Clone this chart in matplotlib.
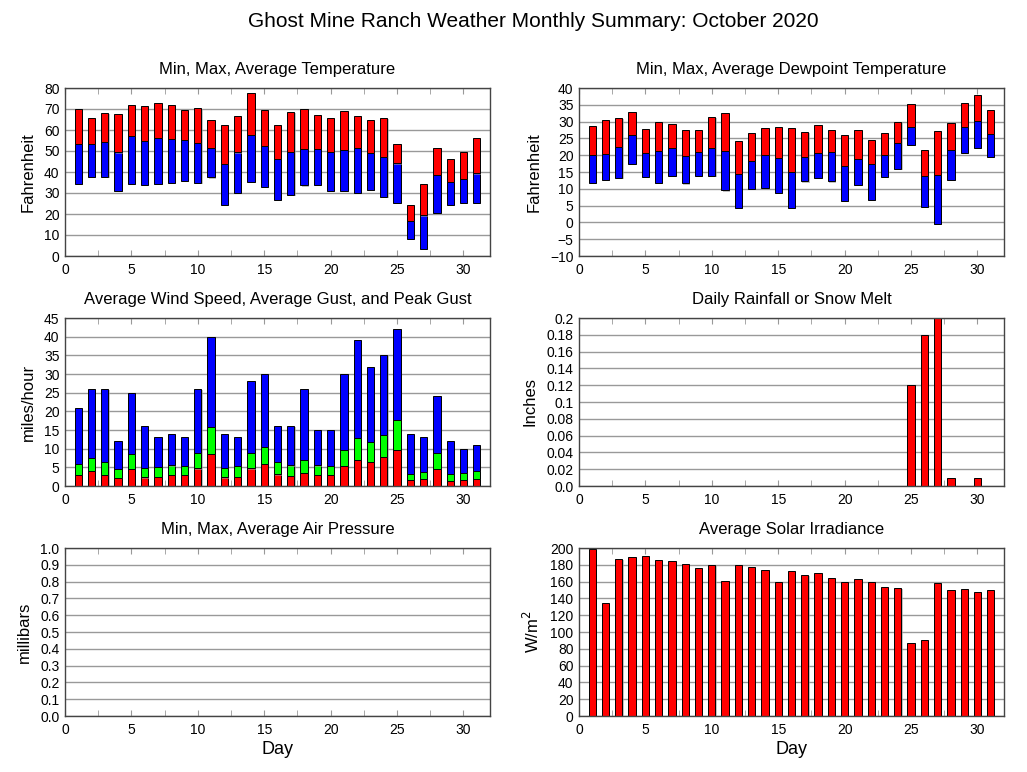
import numpy as np
import matplotlib
matplotlib.use('Agg')
import matplotlib.pyplot as plt
import matplotlib.patheffects as pe
from matplotlib.ticker import MultipleLocator

plt.rcParams['font.family'] = ['Liberation Sans', 'DejaVu Sans']

# data
days = np.arange(1, 32)

temp_max = [70.0, 65.5, 68.0, 67.4, 71.9, 71.4, 72.8, 72.0, 69.5, 70.5, 64.8, 62.4, 66.7, 77.7, 69.5, 62.4,
            68.6, 70.0, 67.1, 65.9, 69.0, 66.5, 64.9, 65.7, 53.4, 24.2, 34.3, 51.3, 46.4, 49.6, 56.2]
temp_avg = [53.4, 53.4, 54.3, 49.3, 57.2, 54.8, 56.2, 55.6, 55.3, 54.0, 51.5, 43.9, 49.3, 57.8, 52.4, 46.3,
            49.6, 51.0, 51.0, 49.6, 50.6, 51.5, 49.1, 47.2, 44.1, 16.9, 19.3, 38.7, 35.4, 36.8, 39.3]
temp_min = [34.3, 37.6, 37.8, 31.1, 34.3, 34.0, 34.4, 34.9, 35.9, 34.6, 37.4, 24.5, 29.9, 35.4, 33.0, 26.9,
            29.2, 33.6, 33.8, 31.0, 31.0, 29.9, 31.6, 28.3, 25.4, 8.1, 3.2, 20.4, 24.3, 25.1, 25.4]

dew_max = [28.7, 30.5, 31.1, 32.8, 27.8, 29.9, 29.3, 27.6, 27.5, 31.4, 32.7, 24.2, 26.6, 28.1, 28.4, 28.1,
           26.9, 29.0, 27.5, 26.1, 27.5, 24.6, 26.5, 29.9, 35.2, 21.6, 27.2, 29.6, 35.5, 37.9, 33.4]
dew_avg = [20.1, 20.5, 22.5, 25.9, 20.7, 21.3, 22.2, 19.8, 20.9, 22.2, 21.3, 14.5, 18.2, 20.1, 19.2, 15.1,
           19.5, 20.7, 21.0, 16.9, 19.0, 17.5, 20.1, 23.7, 28.4, 13.9, 14.2, 21.6, 28.5, 30.2, 26.4]
dew_min = [11.8, 12.7, 13.3, 17.5, 13.6, 11.8, 13.8, 11.6, 13.9, 13.7, 9.5, 4.4, 10.0, 10.1, 8.8, 4.2,
           12.2, 13.3, 12.2, 6.5, 11.2, 6.7, 13.6, 15.9, 23.0, 4.6, -0.4, 12.7, 20.7, 22.1, 19.5]

wind_avg = [2.9, 4.0, 3.0, 2.1, 4.5, 2.3, 2.4, 2.9, 2.9, 4.7, 8.7, 2.3, 2.5, 4.7, 5.8, 3.1,
            2.6, 3.4, 2.9, 2.9, 5.3, 7.0, 6.4, 7.9, 9.7, 1.7, 2.0, 4.5, 1.4, 1.7, 1.8]
gust_avg = [6.0, 7.6, 6.5, 4.6, 8.6, 4.9, 5.2, 5.5, 5.4, 8.9, 15.8, 4.9, 5.3, 8.9, 10.5, 6.4,
            5.5, 7.0, 5.5, 5.4, 9.6, 12.9, 11.7, 13.7, 17.6, 3.3, 3.7, 8.9, 3.3, 3.6, 4.1]
gust_peak = [21, 26, 26, 12, 25, 16, 13, 14, 13, 26, 40, 14, 13, 28, 30, 16,
             16, 26, 15, 15, 30, 39, 32, 35, 42, 14, 13, 24, 12, 10, 11]

rain = [0, 0, 0, 0, 0, 0, 0, 0, 0, 0, 0, 0, 0, 0, 0, 0,
        0, 0, 0, 0, 0, 0, 0, 0, 0.12, 0.18, 0.2, 0.01, 0, 0.01, 0]

solar = [199, 134, 187, 189, 191, 186, 185, 181, 176, 180, 161, 180, 177, 174, 160, 173,
         168, 170, 164, 160, 163, 159, 154, 152, 87, 90, 158, 150, 151, 148, 150]

rain_ticks = [0.0, 0.02, 0.04, 0.06, 0.08, 0.1, 0.12, 0.14, 0.16, 0.18, 0.2]
rain_labels = ['0.0', '0.02', '0.04', '0.06', '0.08', '0.1', '0.12', '0.14', '0.16', '0.18', '0.2']
press_ticks = np.round(np.arange(0, 1.01, 0.1), 1)

W, H = 1027, 772
fig = plt.figure(figsize=(W / 100, H / 100), dpi=100)


def make_ax(left, top, right, bottom):
    ax = fig.add_axes([left / W, 1 - bottom / H, (right - left) / W, (bottom - top) / H])
    ax.set_xlim(0, 32)
    ax.xaxis.set_major_locator(MultipleLocator(5))
    ax.xaxis.set_minor_locator(MultipleLocator(2.5))
    ax.tick_params(axis='x', which='both', direction='in', top=True, length=4,
                   color='#999999', labelsize=10, pad=5)
    ax.tick_params(axis='y', length=0, labelsize=10, pad=4)
    ax.grid(axis='y', color='#999999', linewidth=1.0)
    ax.set_axisbelow(True)
    for s in ax.spines.values():
        s.set_color('#444444')
        s.set_linewidth(1.0)
    return ax


bw = 0.55
shadow = [pe.SimplePatchShadow(offset=(0.8, -0.8), shadow_rgbFace='#999999', alpha=0.6), pe.Normal()]
edge = dict(edgecolor='black', linewidth=0.7)


def bars(ax, heights, bottom, color):
    b = ax.bar(days, heights, bottom=bottom, width=bw, color=color, **edge)
    for p in b:
        p.set_path_effects(shadow)
    return b


# temperature
ax1 = make_ax(65, 88, 490, 256)
tmin = np.array(temp_min)
tavg = np.array(temp_avg)
tmax = np.array(temp_max)
bars(ax1, tavg - tmin, tmin, '#0000ff')
bars(ax1, tmax - tavg, tavg, '#ff0000')
ax1.set_ylim(0, 80)
ax1.set_yticks(range(0, 81, 10))
ax1.set_ylabel('Fahrenheit', fontsize=12, labelpad=6)
ax1.set_title('Min, Max, Average Temperature', fontsize=12, pad=10)

# dewpoint
ax2 = make_ax(579, 88, 1004, 256)
dmin = np.array(dew_min)
davg = np.array(dew_avg)
dmax = np.array(dew_max)
bars(ax2, davg - dmin, dmin, '#0000ff')
bars(ax2, dmax - davg, davg, '#ff0000')
ax2.set_ylim(-10, 40)
ax2.set_yticks(range(-10, 41, 5))
ax2.set_ylabel('Fahrenheit', fontsize=12, labelpad=6)
ax2.set_title('Min, Max, Average Dewpoint Temperature', fontsize=12, pad=10)

# wind
ax3 = make_ax(65, 318, 490, 486)
wa = np.array(wind_avg)
ga = np.array(gust_avg)
gp = np.array(gust_peak)
bars(ax3, wa, 0, '#ff0000')
bars(ax3, ga - wa, wa, '#00ff00')
bars(ax3, gp - ga, ga, '#0000ff')
ax3.set_ylim(0, 45)
ax3.set_yticks(range(0, 46, 5))
ax3.set_ylabel('miles/hour', fontsize=12, labelpad=6)
ax3.set_title('Average Wind Speed, Average Gust, and Peak Gust', fontsize=12, pad=10)

# rain
ax4 = make_ax(579, 318, 1004, 486)
bars(ax4, rain, 0, '#ff0000')
ax4.set_ylim(0, 0.2)
ax4.set_yticks(rain_ticks)
ax4.set_yticklabels(rain_labels)
ax4.set_ylabel('Inches', fontsize=12, labelpad=6)
ax4.set_title('Daily Rainfall or Snow Melt', fontsize=12, pad=10)

# pressure (no data)
ax5 = make_ax(65, 548, 490, 716)
ax5.set_ylim(0, 1)
ax5.set_yticks(press_ticks)
ax5.set_yticklabels(['%.1f' % t for t in press_ticks])
ax5.set_ylabel('millibars', fontsize=12, labelpad=6)
ax5.set_title('Min, Max, Average Air Pressure', fontsize=12, pad=10)
ax5.set_xlabel('Day', fontsize=13, labelpad=3)

# solar
ax6 = make_ax(579, 548, 1004, 716)
bars(ax6, solar, 0, '#ff0000')
ax6.set_ylim(0, 200)
ax6.set_yticks(range(0, 201, 20))
ax6.set_ylabel('W/m$^2$', fontsize=12, labelpad=6)
ax6.set_title('Average Solar Irradiance', fontsize=12, pad=10)
ax6.set_xlabel('Day', fontsize=13, labelpad=3)

fig.suptitle('Ghost Mine Ranch Weather Monthly Summary: October 2020', fontsize=15, x=0.519, y=0.985)

fig.savefig('out.png', dpi=100)
